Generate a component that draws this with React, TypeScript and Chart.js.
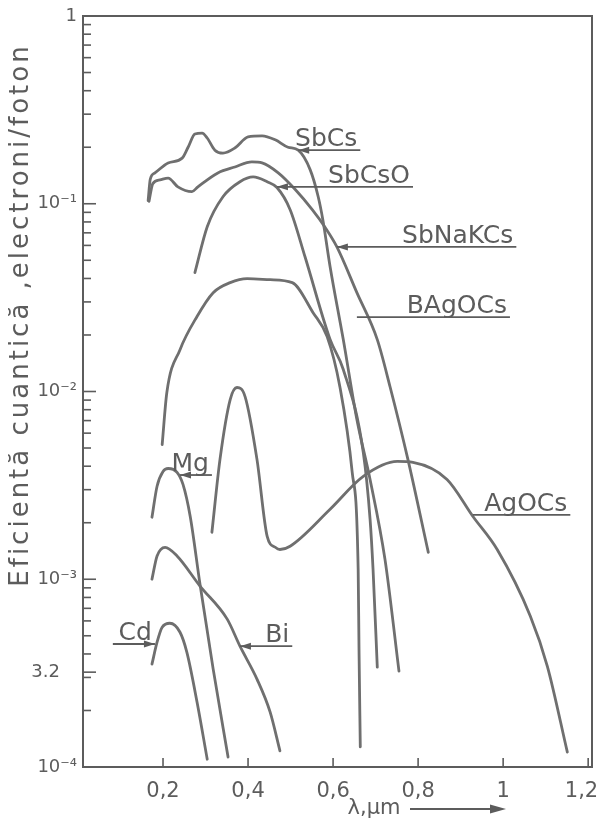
import React, { useEffect, useRef } from 'react';
import { Chart, registerables } from 'chart.js';

Chart.register(...registerables);

// ---- data (x in µm, y = quantum efficiency, electrons/photon) ----
const sbCsX = [0.165, 0.170, 0.181, 0.212, 0.245, 0.259, 0.275, 0.292, 0.304, 0.322, 0.341, 0.369, 0.400, 0.433, 0.464, 0.494, 0.518, 0.546, 0.565, 0.576, 0.593, 0.624, 0.656, 0.687, 0.722, 0.755];
const sbCsY = [0.104, 0.135, 0.146, 0.165, 0.175, 0.200, 0.235, 0.238, 0.224, 0.193, 0.186, 0.198, 0.227, 0.230, 0.219, 0.200, 0.193, 0.152, 0.109, 0.082, 0.0462, 0.0189, 0.0071, 0.0034, 0.00128, 0.000324];

const sbNaKCsX = [0.167, 0.176, 0.193, 0.212, 0.235, 0.268, 0.282, 0.329, 0.369, 0.409, 0.433, 0.471, 0.511, 0.551, 0.581, 0.609, 0.656, 0.704, 0.734, 0.776, 0.824];
const sbNaKCsY = [0.103, 0.128, 0.134, 0.137, 0.123, 0.116, 0.123, 0.146, 0.157, 0.167, 0.165, 0.146, 0.119, 0.093, 0.075, 0.0589, 0.0336, 0.0189, 0.0106, 0.00435, 0.00139];

const sbCsOX = [0.275, 0.304, 0.341, 0.381, 0.412, 0.445, 0.468, 0.499, 0.534, 0.593, 0.624, 0.671, 0.687, 0.694, 0.704];
const sbCsOY = [0.043, 0.0755, 0.109, 0.131, 0.139, 0.131, 0.122, 0.093, 0.0522, 0.0189, 0.0131, 0.00474, 0.00209, 0.00113, 0.00034];

const bAgOCsX = [0.198, 0.209, 0.240, 0.280, 0.318, 0.358, 0.398, 0.452, 0.504, 0.553, 0.586, 0.616, 0.645, 0.659, 0.661, 0.664];
const bAgOCsY = [0.00522, 0.00988, 0.0167, 0.0251, 0.0336, 0.038, 0.0399, 0.0394, 0.038, 0.0263, 0.0196, 0.0106, 0.00371, 0.00113, 0.000424, 0.000128];

const agOCsX = [0.315, 0.334, 0.358, 0.374, 0.393, 0.421, 0.445, 0.464, 0.475, 0.499, 0.593, 0.671, 0.751, 0.788, 0.868, 0.929, 0.986, 1.064, 1.104, 1.151];
const agOCsY = [0.00178, 0.00435, 0.00906, 0.0105, 0.0094, 0.00435, 0.00169, 0.00148, 0.00144, 0.0015, 0.00236, 0.00353, 0.00424, 0.00419, 0.0034, 0.00216, 0.00144, 0.000636, 0.000344, 0.00012];

const mgX = [0.174, 0.186, 0.200, 0.212, 0.233, 0.247, 0.264, 0.287, 0.318, 0.353];
const mgY = [0.00214, 0.00313, 0.00375, 0.00389, 0.00371, 0.0032, 0.00216, 0.00094, 0.000332, 0.000113];

const biX = [0.174, 0.186, 0.205, 0.233, 0.287, 0.351, 0.381, 0.421, 0.452, 0.475];
const biY = [0.001, 0.00133, 0.00148, 0.00133, 0.00092, 0.000613, 0.00044, 0.000294, 0.000196, 0.000122];

const cdX = [0.174, 0.186, 0.198, 0.216, 0.240, 0.256, 0.280, 0.304];
const cdY = [0.000353, 0.000462, 0.000555, 0.000583, 0.000522, 0.000409, 0.000222, 0.00011];

// curve labels: leader line from the curve (tip) to the end x
const labelNames = ['SbCs', 'SbCsO', 'SbNaKCs', 'BAgOCs', 'AgOCs', 'Mg', 'Bi', 'Cd'];
const labelTipX = [0.518, 0.468, 0.609, 0.656, 0.929, 0.240, 0.381, 0.181];
const labelTipY = [0.193, 0.123, 0.0589, 0.0249, 0.0022, 0.00359, 0.00044, 0.000452];
const labelEndX = [0.664, 0.788, 1.031, 1.016, 1.158, 0.315, 0.504, 0.082];
const labelArrow = [true, true, true, false, false, true, true, true];

// axis ticks
const xTickValues = [0.2, 0.4, 0.6, 0.8, 1.0, 1.2];
const xTickLabels = ['0,2', '0,4', '0,6', '0,8', '1', '1,2  '];
const yMajorValues = [1, 0.1, 0.01, 0.001, 0.0001, 0.00032];
const yMajorLabels = ['1', '10⁻¹', '10⁻²', '10⁻³', '10⁻⁴', '3.2   '];
const xTitle = 'λ,μm';
const yTitle = 'Eficientă cuantică ,electroni/foton';

const INK = '#5c5c5c';
const LINE = '#6f6f6f';
const FONT = 'DejaVu Sans';

function pairs(xs: number[], ys: number[]) {
  return xs.map((x, i) => ({ x, y: ys[i] }));
}

function yAllTicks(): number[] {
  const out: number[] = [];
  for (let e = -4; e < 0; e++) {
    for (let m = 1; m <= 9; m++) out.push(m * Math.pow(10, e));
  }
  out.push(1);
  out.push(0.00032);
  return out;
}

function isMajorY(v: number) {
  return yMajorValues.findIndex((m) => Math.abs(m - v) / m < 1e-6);
}

const decorPlugin = {
  id: 'decor',
  afterDraw(chart: any) {
    const { ctx, chartArea, scales } = chart;
    const xs = scales.x;
    const ys = scales.y;
    ctx.save();
    // inner ticks on the left axis
    ctx.strokeStyle = INK;
    ctx.lineWidth = 1.6;
    ys.ticks.forEach((t: any) => {
      const py = ys.getPixelForValue(t.value);
      const len = isMajorY(t.value) >= 0 ? 13 : 8;
      ctx.beginPath();
      ctx.moveTo(chartArea.left, py);
      ctx.lineTo(chartArea.left + len, py);
      ctx.stroke();
    });
    // inner ticks on bottom axis
    xs.ticks.forEach((t: any) => {
      const px = xs.getPixelForValue(t.value);
      ctx.beginPath();
      ctx.moveTo(px, chartArea.bottom);
      ctx.lineTo(px, chartArea.bottom - 9);
      ctx.stroke();
    });

    // curve labels with leader lines
    ctx.fillStyle = INK;
    ctx.strokeStyle = INK;
    ctx.font = `25px "${FONT}"`;
    ctx.textBaseline = 'alphabetic';
    ctx.textAlign = 'right';
    labelNames.forEach((name, i) => {
      const tx = xs.getPixelForValue(labelTipX[i]);
      const ty = ys.getPixelForValue(labelTipY[i]);
      const ex = xs.getPixelForValue(labelEndX[i]);
      ctx.lineWidth = 1.8;
      ctx.beginPath();
      ctx.moveTo(tx, ty);
      ctx.lineTo(ex, ty);
      ctx.stroke();
      if (labelArrow[i]) {
        const dir = tx < ex ? -1 : 1;
        ctx.beginPath();
        ctx.moveTo(tx, ty);
        ctx.lineTo(tx - dir * 11, ty - 3.5);
        ctx.lineTo(tx - dir * 11, ty + 3.5);
        ctx.closePath();
        ctx.fill();
      }
      const right = Math.max(tx, ex) - 3;
      ctx.fillText(name, right, ty - 4);
    });

    // y axis title
    ctx.save();
    ctx.translate(21, 315);
    ctx.rotate(-Math.PI / 2);
    ctx.font = `26px "${FONT}"`;
    (ctx as any).letterSpacing = '3px';
    ctx.textAlign = 'center';
    ctx.textBaseline = 'middle';
    ctx.fillText(yTitle, 0, 0);
    ctx.restore();

    // x axis title + arrow
    ctx.font = `21px "${FONT}"`;
    ctx.textAlign = 'center';
    ctx.textBaseline = 'middle';
    ctx.fillText(xTitle, 374, 809);
    ctx.lineWidth = 2;
    ctx.beginPath();
    ctx.moveTo(410, 809);
    ctx.lineTo(492, 809);
    ctx.stroke();
    ctx.beginPath();
    ctx.moveTo(506, 809);
    ctx.lineTo(490, 804.5);
    ctx.lineTo(490, 813.5);
    ctx.closePath();
    ctx.fill();
    ctx.restore();
  },
};

export default function App() {
  const ref = useRef<HTMLCanvasElement | null>(null);

  useEffect(() => {
    if (!ref.current) return;
    const mk = (label: string, xs: number[], ys: number[]) => ({
      label,
      data: pairs(xs, ys),
      borderColor: LINE,
      borderWidth: 2.8,
      pointRadius: 0,
      fill: false,
      cubicInterpolationMode: 'monotone' as const,
      borderCapStyle: 'round' as const,
      borderJoinStyle: 'round' as const,
    });
    const noPad = (s: any) => {
      s.paddingLeft = 0;
      s.paddingRight = 0;
      s.paddingTop = 0;
      s.paddingBottom = 0;
    };
    const chart = new Chart(ref.current, {
      type: 'line',
      data: {
        datasets: [
          mk('SbCs', sbCsX, sbCsY),
          mk('SbNaKCs', sbNaKCsX, sbNaKCsY),
          mk('SbCsO', sbCsOX, sbCsOY),
          mk('BAgOCs', bAgOCsX, bAgOCsY),
          mk('AgOCs', agOCsX, agOCsY),
          mk('Mg', mgX, mgY),
          mk('Bi', biX, biY),
          mk('Cd', cdX, cdY),
        ],
      },
      options: {
        responsive: false,
        animation: false,
        devicePixelRatio: 1,
        layout: { padding: { top: 16, right: 7, left: 0, bottom: 0 } },
        plugins: { legend: { display: false }, tooltip: { enabled: false } },
        scales: {
          x: {
            type: 'linear',
            position: 'bottom',
            min: 0.0118,
            max: 1.209,
            afterBuildTicks: (s: any) => {
              s.ticks = xTickValues.map((v) => ({ value: v }));
            },
            afterFit: (s: any) => {
              s.height = 57;
              noPad(s);
            },
            grid: { display: false, drawTicks: false },
            border: { display: true, color: INK, width: 2 },
            ticks: {
              autoSkip: false,
              maxRotation: 0,
              padding: 12,
              color: INK,
              font: { family: FONT, size: 21 },
              callback: (v: any) => {
                const i = xTickValues.findIndex((t) => Math.abs(t - v) < 1e-6);
                return i >= 0 ? xTickLabels[i] : '';
              },
            },
          },
          x2: {
            type: 'linear',
            position: 'top',
            min: 0.0118,
            max: 1.209,
            afterFit: (s: any) => {
              s.height = 0;
              noPad(s);
            },
            grid: { display: false, drawTicks: false },
            border: { display: true, color: INK, width: 2 },
            ticks: { display: false },
          },
          y: {
            type: 'logarithmic',
            position: 'left',
            min: 0.0001,
            max: 1,
            afterBuildTicks: (s: any) => {
              s.ticks = yAllTicks().map((v) => ({ value: v }));
            },
            afterFit: (s: any) => {
              s.width = 83;
              noPad(s);
            },
            grid: { display: false, drawTicks: false },
            border: { display: true, color: INK, width: 2 },
            ticks: {
              autoSkip: false,
              padding: 6,
              color: INK,
              font: { family: FONT, size: 18 },
              callback: (v: any) => {
                const i = isMajorY(Number(v));
                return i >= 0 ? yMajorLabels[i] : '';
              },
            },
          },
          y2: {
            type: 'logarithmic',
            position: 'right',
            min: 0.0001,
            max: 1,
            afterFit: (s: any) => {
              s.width = 0;
              noPad(s);
            },
            grid: { display: false, drawTicks: false },
            border: { display: true, color: INK, width: 2 },
            ticks: { display: false },
          },
        },
      } as any,
      plugins: [decorPlugin],
    });
    return () => chart.destroy();
  }, []);

  return (
    <div style={{ position: 'absolute', left: 0, top: 0, width: 599, height: 824, background: '#fff' }}>
      <canvas ref={ref} width={599} height={824} style={{ display: 'block' }} />
    </div>
  );
}
